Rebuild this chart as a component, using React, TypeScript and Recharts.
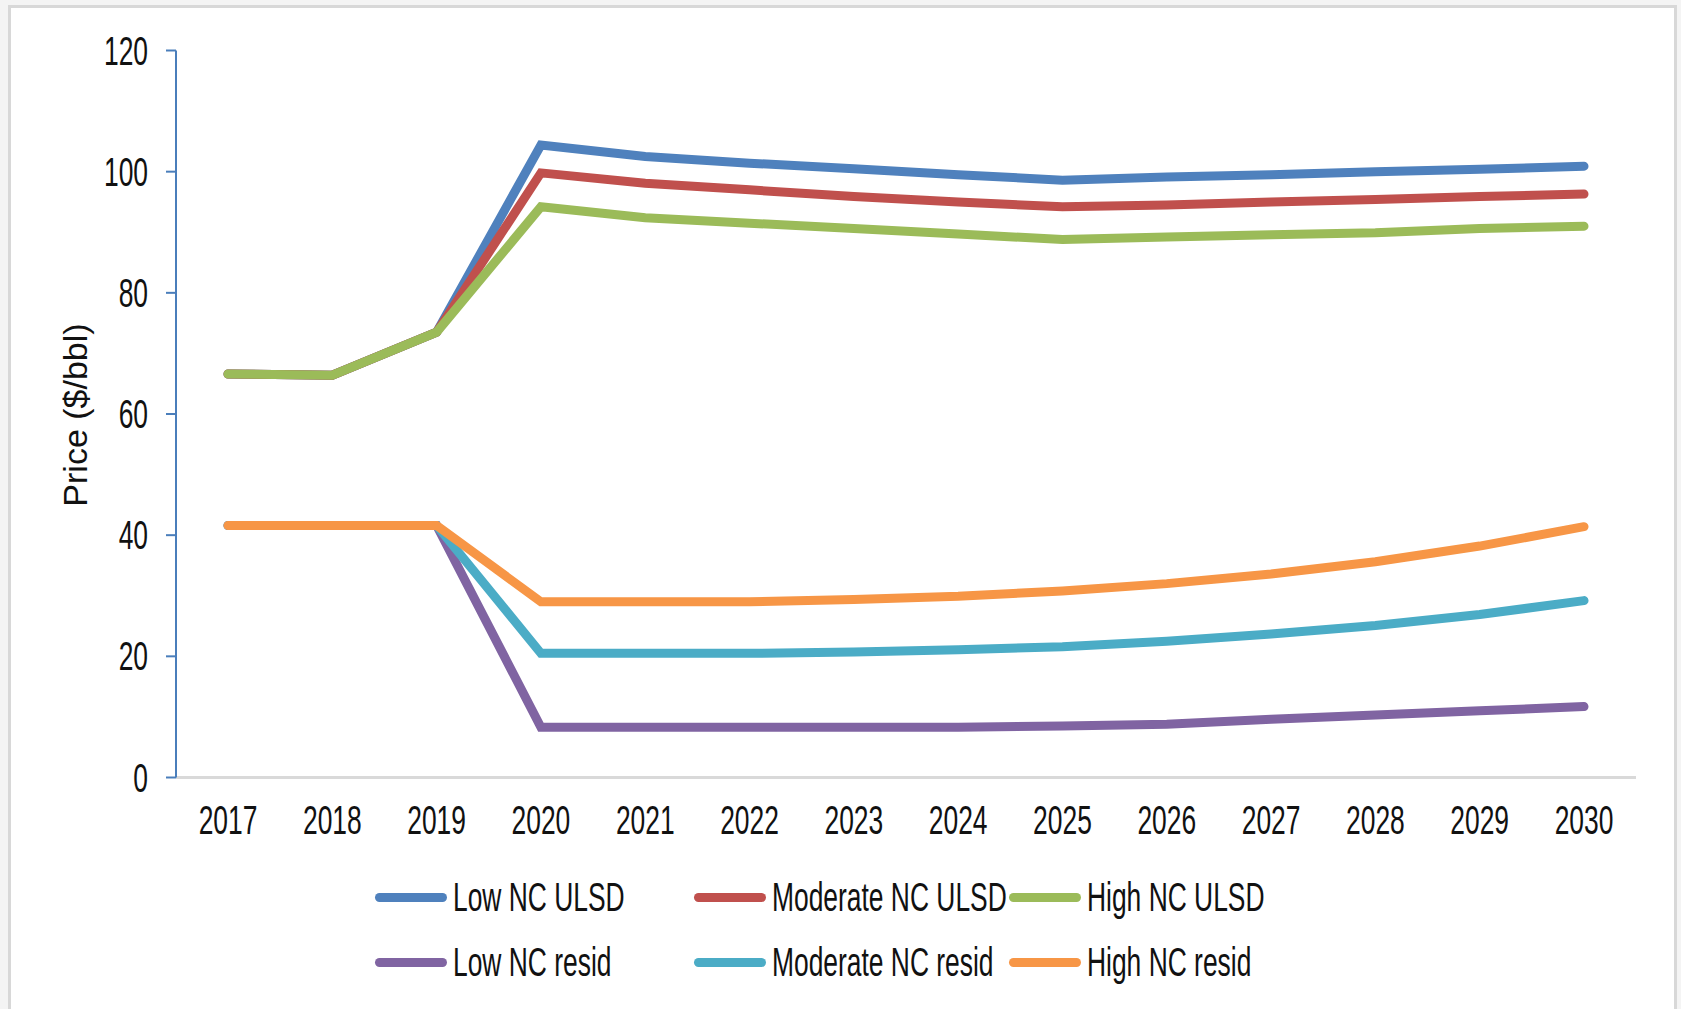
import { LineChart, Line, XAxis, YAxis } from "recharts"

const YEARS = [
  "2017", "2018", "2019", "2020", "2021", "2022", "2023",
  "2024", "2025", "2026", "2027", "2028", "2029", "2030",
]

const LOW_ULSD = [66.6, 66.4, 73.5, 104.4, 102.5, 101.4, 100.5, 99.5, 98.6, 99.1, 99.5, 100.0, 100.4, 100.9]
const MODERATE_ULSD = [66.6, 66.4, 73.5, 99.8, 98.1, 97.0, 95.9, 95.0, 94.2, 94.5, 95.0, 95.4, 95.9, 96.3]
const HIGH_ULSD = [66.6, 66.4, 73.5, 94.2, 92.4, 91.5, 90.6, 89.7, 88.8, 89.2, 89.6, 89.9, 90.6, 91.0]
const LOW_RESID = [41.6, 41.6, 41.6, 8.3, 8.3, 8.3, 8.3, 8.3, 8.5, 8.8, 9.6, 10.3, 11.0, 11.7]
const MODERATE_RESID = [41.6, 41.6, 41.6, 20.5, 20.5, 20.5, 20.7, 21.1, 21.6, 22.5, 23.7, 25.1, 26.9, 29.2]
const HIGH_RESID = [41.6, 41.6, 41.6, 29.0, 29.0, 29.0, 29.4, 29.9, 30.8, 32.0, 33.6, 35.6, 38.2, 41.4]

const Y_TICKS = [0, 20, 40, 60, 80, 100, 120]

const SERIES = [
  { key: "lowUlsd", name: "Low NC ULSD", color: "#4f81bd", values: LOW_ULSD },
  { key: "moderateUlsd", name: "Moderate NC ULSD", color: "#c0504d", values: MODERATE_ULSD },
  { key: "highUlsd", name: "High NC ULSD", color: "#9bbb59", values: HIGH_ULSD },
  { key: "lowResid", name: "Low NC resid", color: "#8064a2", values: LOW_RESID },
  { key: "moderateResid", name: "Moderate NC resid", color: "#4bacc6", values: MODERATE_RESID },
  { key: "highResid", name: "High NC resid", color: "#f79646", values: HIGH_RESID },
]

const data = YEARS.map((year, i) => {
  const row: Record<string, string | number> = { year }
  SERIES.forEach((s) => {
    row[s.key] = s.values[i]
  })
  return row
})

const FONT = "'Liberation Sans', Arial, sans-serif"
// narrow look for axis and legend text
const SQUEEZE = 0.66

function YTick(props: any) {
  const { x, y, payload } = props
  return (
    <text
      transform={`translate(${x},${y + 14}) scale(${SQUEEZE},1)`}
      textAnchor="end"
      fontSize={40}
      fontFamily={FONT}
      fill="#111"
    >
      {payload.value}
    </text>
  )
}

function XTick(props: any) {
  const { x, y, payload } = props
  return (
    <text
      transform={`translate(${x},${y + 56}) scale(${SQUEEZE},1)`}
      textAnchor="middle"
      fontSize={40}
      fontFamily={FONT}
      fill="#111"
    >
      {payload.value}
    </text>
  )
}

export default function App() {
  return (
    <div
      style={{
        position: "fixed",
        left: 0,
        top: 0,
        width: 1681,
        height: 1009,
        background: "#f4f4f4",
        overflow: "hidden",
      }}
    >
      <div
        style={{
          position: "absolute",
          left: 8,
          top: 5,
          width: 1669,
          height: 1030,
          boxSizing: "border-box",
          background: "#fff",
          border: "3px solid #d8d8d8",
          borderBottom: "none",
        }}
      />

      <div style={{ position: "absolute", left: 0, top: 0 }}>
        <LineChart
          width={1681}
          height={1009}
          data={data}
          margin={{ top: 50.5, right: 45, bottom: 171.5, left: 96 }}
        >
          <XAxis
            dataKey="year"
            padding={{ left: 52, right: 52 }}
            height={60}
            axisLine={{ stroke: "#d9d9d9", strokeWidth: 3 }}
            tickLine={false}
            tickSize={0}
            tickMargin={0}
            tick={<XTick />}
            interval={0}
          />
          <YAxis
            domain={[0, 120]}
            ticks={Y_TICKS}
            width={80}
            axisLine={{ stroke: "#4a7ebb", strokeWidth: 2 }}
            tickLine={{ stroke: "#4a7ebb", strokeWidth: 2 }}
            tickSize={10}
            tickMargin={18}
            tick={<YTick />}
          />
          {SERIES.map((s) => (
            <Line
              key={s.key}
              type="linear"
              dataKey={s.key}
              name={s.name}
              stroke={s.color}
              strokeWidth={9}
              strokeLinecap="round"
              dot={false}
              activeDot={false}
              isAnimationActive={false}
            />
          ))}
        </LineChart>
      </div>

      <div
        style={{
          position: "absolute",
          left: 75,
          top: 415,
          transform: "translate(-50%, -50%) rotate(-90deg)",
          fontSize: 34,
          fontFamily: FONT,
          color: "#111",
          whiteSpace: "nowrap",
        }}
      >
        Price ($/bbl)
      </div>

      <div
        style={{
          position: "absolute",
          left: 375,
          top: 865,
          display: "grid",
          gridTemplateColumns: "319px 315px 300px",
          gridAutoRows: "65px",
        }}
      >
        {SERIES.map((s) => (
          <div key={s.key} style={{ display: "flex", alignItems: "center", height: 65 }}>
            <div
              style={{
                width: 72,
                height: 9,
                borderRadius: 4.5,
                background: s.color,
                flex: "none",
              }}
            />
            <span
              style={{
                marginLeft: 6,
                fontSize: 40,
                fontFamily: FONT,
                color: "#111",
                whiteSpace: "nowrap",
                display: "inline-block",
                transform: `scaleX(${SQUEEZE})`,
                transformOrigin: "left center",
              }}
            >
              {s.name}
            </span>
          </div>
        ))}
      </div>
    </div>
  )
}
